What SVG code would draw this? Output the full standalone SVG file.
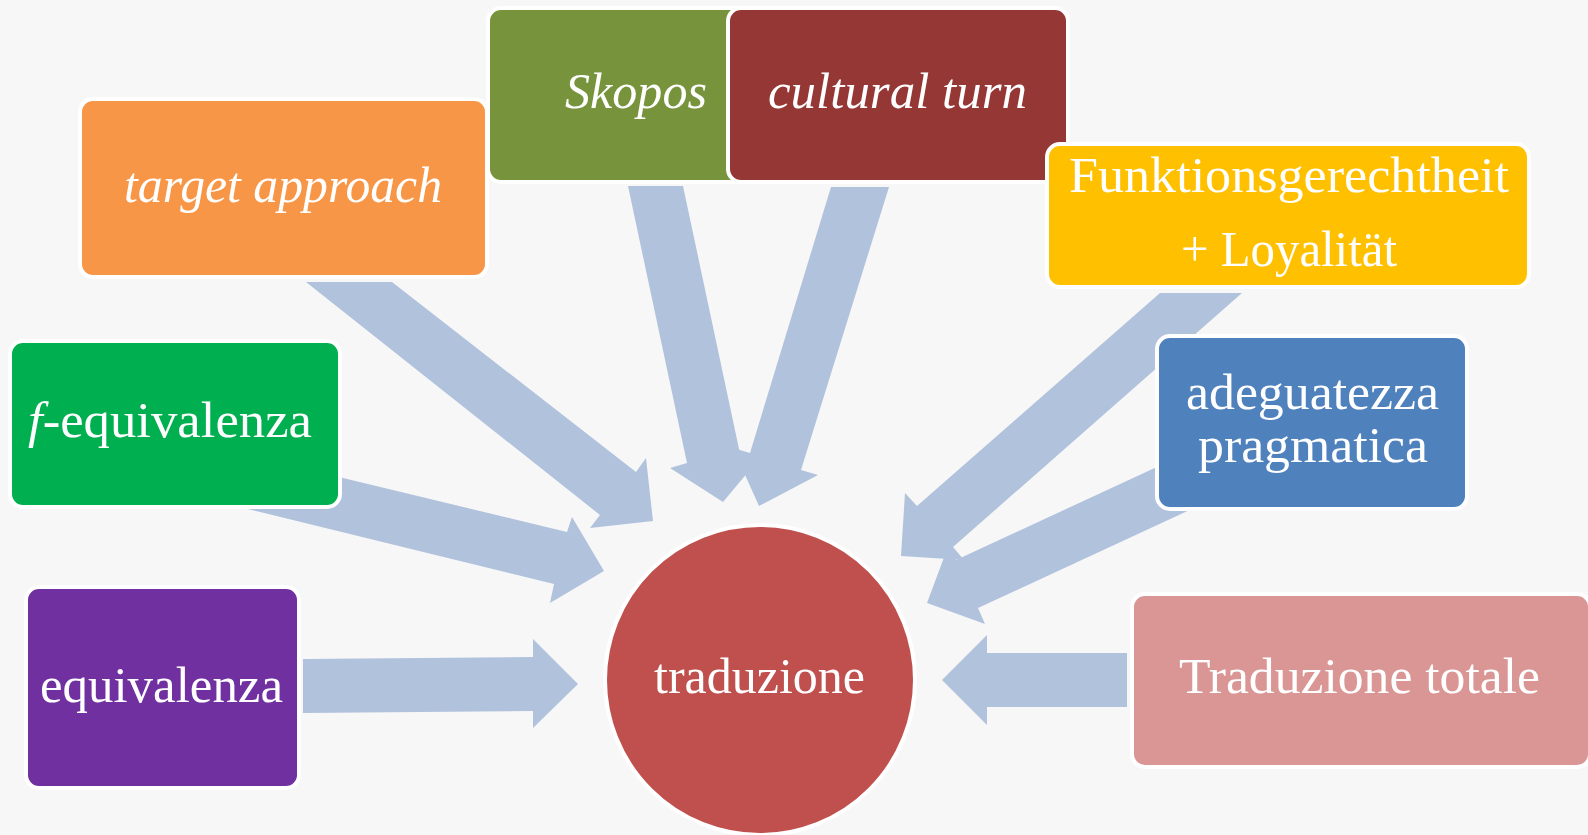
<svg xmlns="http://www.w3.org/2000/svg" width="1588" height="835" viewBox="0 0 1588 835">
  <style>
    .arrow { fill: #B1C2DD; }
    .box { stroke: #FFFFFF; stroke-width: 4; }
    .label { font-family: "Liberation Serif", "Times New Roman", serif; font-size: 50px; fill: #FFFFFF; text-anchor: middle; }
    .it { font-style: italic; }
  </style>

  <!-- page background -->
  <rect x="0" y="0" width="1588" height="835" fill="#F7F7F7"/>

  <!-- block arrows pointing at the central circle -->
  <g id="connectors">
    <polygon class="arrow" points="306,282 392,282 636,472 646,458 653,521 590,528 600,515"/>
    <polygon class="arrow" points="628,186 683,186 742,463 759,459 723,502 670,468 687,463"/>
    <polygon class="arrow" points="831,187 889,187 801,470 818,475 759,506 733,448 750,453"/>
    <polygon class="arrow" points="1160,293 1242,293 953,547 964,560 901,556 905,493 917,506"/>
    <polygon class="arrow" points="1200,447 1222,495 978,608 985,624 927,603 949,544 956,560"/>
    <polygon class="arrow" points="260,458 567,532 572,517 604,571 550,603 554,584 248,509"/>
    <polygon class="arrow" points="303,659 533,657 533,639 578,684 533,728 533,711 303,713"/>
    <polygon class="arrow" points="1127,653 987,653 987,635 942,680 987,725 987,707 1127,707"/>
  </g>

  <g id="node-target-approach">
    <rect class="box" x="80" y="99" width="407" height="178" rx="13" fill="#F79646"/>
    <text class="label it" x="283" y="202" textLength="318" lengthAdjust="spacingAndGlyphs">target approach</text>
  </g>

  <g id="node-skopos">
    <rect class="box" x="488" y="8" width="290" height="174" rx="13" fill="#77933C"/>
    <text class="label it" x="636" y="108" textLength="142" lengthAdjust="spacingAndGlyphs">Skopos</text>
  </g>

  <g id="node-cultural-turn">
    <rect class="box" x="728" y="8" width="340" height="174" rx="13" fill="#953735"/>
    <text class="label it" x="897.5" y="108" textLength="259" lengthAdjust="spacingAndGlyphs">cultural turn</text>
  </g>

  <g id="node-funktionsgerechtheit">
    <rect class="box" x="1047" y="144" width="482" height="143" rx="13" fill="#FFC000"/>
    <text class="label" x="1289" y="192" textLength="440" lengthAdjust="spacingAndGlyphs">Funktionsgerechtheit</text>
    <text class="label" x="1289" y="266" textLength="216" lengthAdjust="spacingAndGlyphs">+ Loyalität</text>
  </g>

  <g id="node-adeguatezza">
    <rect class="box" x="1157" y="336" width="310" height="173" rx="13" fill="#4F81BD"/>
    <text class="label" x="1312.5" y="409" textLength="253" lengthAdjust="spacingAndGlyphs">adeguatezza</text>
    <text class="label" x="1313" y="462" textLength="230" lengthAdjust="spacingAndGlyphs">pragmatica</text>
  </g>

  <g id="node-traduzione-totale">
    <rect class="box" x="1132" y="594" width="458" height="173" rx="13" fill="#D99694"/>
    <text class="label" x="1359.5" y="693" textLength="361" lengthAdjust="spacingAndGlyphs">Traduzione totale</text>
  </g>

  <g id="node-f-equivalenza">
    <rect class="box" x="10" y="341" width="330" height="166" rx="13" fill="#00B050"/>
    <text class="label" x="170" y="437" textLength="284" lengthAdjust="spacingAndGlyphs"><tspan class="it">f</tspan>-equivalenza</text>
  </g>

  <g id="node-equivalenza">
    <rect class="box" x="26" y="587" width="273" height="201" rx="13" fill="#7030A0"/>
    <text class="label" x="161.5" y="702" textLength="243" lengthAdjust="spacingAndGlyphs">equivalenza</text>
  </g>

  <g id="node-traduzione">
    <circle class="box" cx="760" cy="680" r="155" fill="#C0504D"/>
    <text class="label" x="759.5" y="693" textLength="211" lengthAdjust="spacingAndGlyphs">traduzione</text>
  </g>
</svg>
